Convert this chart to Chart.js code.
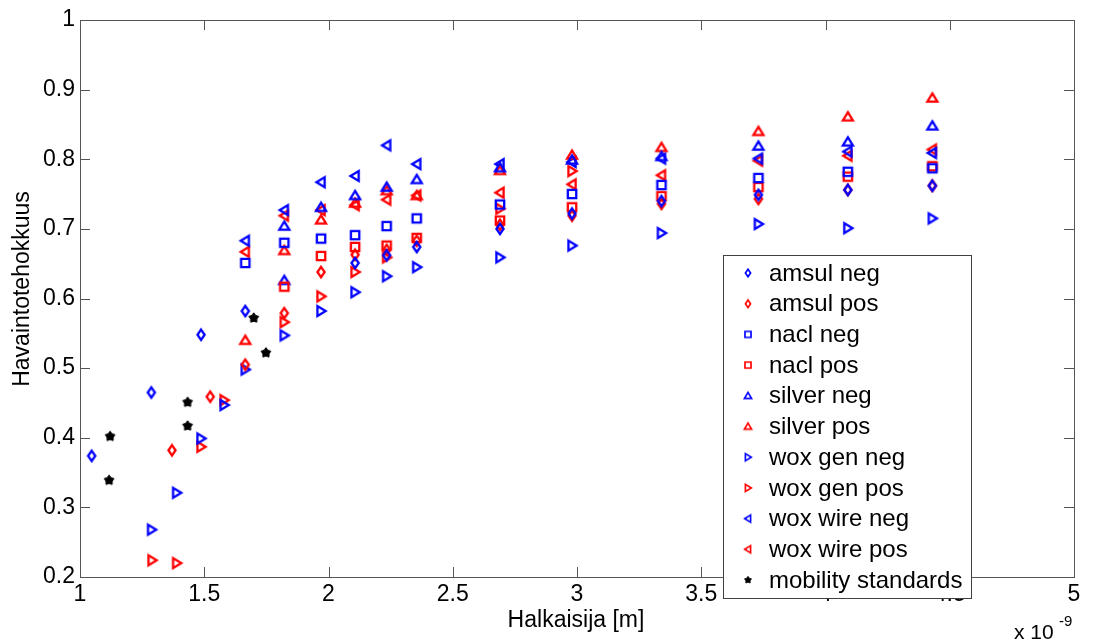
<!DOCTYPE html>
<html>
<head>
<meta charset="utf-8">
<script src="https://cdn.jsdelivr.net/npm/chart.js@4"></script>
<style>
  html, body { margin: 0; padding: 0; background: #fff; }
  #wrap { width: 1095px; height: 642px; }
</style>
</head>
<body>
<div id="wrap"><canvas id="chart" width="1095" height="642"></canvas></div>
<script>
// -------- Data (x in units of 1e-9 m) --------
const amsulNeg = [[1.047,0.374],[1.287,0.465],[1.487,0.548],[1.665,0.582],[2.107,0.651],[2.234,0.662],[2.355,0.674],[2.69,0.700],[2.98,0.722],[3.34,0.740],[3.73,0.749],[4.09,0.756],[4.43,0.762]];
const amsulPos = [[1.370,0.382],[1.524,0.459],[1.665,0.505],[1.822,0.579],[1.970,0.638],[2.107,0.663],[2.234,0.670],[2.355,0.683],[2.69,0.706],[2.98,0.719],[3.34,0.736],[3.73,0.743],[4.09,0.756],[4.43,0.762]];
const naclNeg = [[1.665,0.651],[1.822,0.680],[1.970,0.686],[2.107,0.691],[2.234,0.704],[2.355,0.715],[2.69,0.735],[2.98,0.750],[3.34,0.763],[3.73,0.773],[4.09,0.782],[4.43,0.787]];
const naclPos = [[1.822,0.617],[1.970,0.661],[2.107,0.674],[2.234,0.676],[2.355,0.687],[2.69,0.712],[2.98,0.731],[3.34,0.747],[3.73,0.760],[4.09,0.775],[4.43,0.790]];
const silverNeg = [[1.822,0.704],[1.822,0.626],[1.970,0.731],[2.107,0.748],[2.234,0.760],[2.355,0.771],[2.69,0.788],[2.98,0.799],[3.34,0.804],[3.73,0.819],[4.09,0.825],[4.43,0.848]];
const silverPos = [[1.665,0.540],[1.822,0.669],[1.970,0.713],[2.107,0.737],[2.234,0.755],[2.355,0.748],[2.69,0.784],[2.98,0.806],[3.34,0.817],[3.73,0.840],[4.09,0.861],[4.43,0.888]];
const woxGenNeg = [[1.288,0.268],[1.389,0.321],[1.487,0.399],[1.580,0.447],[1.665,0.498],[1.822,0.547],[1.970,0.582],[2.107,0.609],[2.234,0.632],[2.355,0.645],[2.69,0.659],[2.98,0.676],[3.34,0.694],[3.73,0.707],[4.09,0.701],[4.43,0.715]];
const woxGenPos = [[1.290,0.224],[1.389,0.220],[1.487,0.387],[1.580,0.454],[1.822,0.566],[1.970,0.603],[2.107,0.638],[2.234,0.659],[2.69,0.729],[2.98,0.783]];
const woxWireNeg = [[1.665,0.683],[1.822,0.727],[1.970,0.767],[2.107,0.776],[2.234,0.820],[2.355,0.793],[2.69,0.793],[2.98,0.796],[3.34,0.801],[3.73,0.801],[4.09,0.811],[4.43,0.809]];
const woxWirePos = [[1.665,0.667],[1.822,0.719],[1.970,0.727],[2.107,0.734],[2.234,0.742],[2.355,0.748],[2.69,0.752],[2.98,0.764],[3.34,0.777],[3.73,0.798],[4.09,0.805],[4.43,0.814]];
const mobility = [[1.121,0.402],[1.117,0.339],[1.433,0.451],[1.433,0.417],[1.699,0.572],[1.748,0.522]];

const xTicks = [1, 1.5, 2, 2.5, 3, 3.5, 4, 4.5, 5];
const yTicks = [0.2, 0.3, 0.4, 0.5, 0.6, 0.7, 0.8, 0.9, 1];

const xTitle = 'Halkaisija [m]';
const yTitle = 'Havaintotehokkuus';

const BLUE = '#0000ff';
const RED = '#ff0000';
const AXIS = '#555555';
const FONT = '"Liberation Sans", Arial, sans-serif';


// -------- Markers --------
function makeMarker(shape, color, scale) {
    const s = 20;
    const c = document.createElement('canvas');
    c.width = s; c.height = s;
    const g = c.getContext('2d');
    g.translate(s / 2, s / 2);
    g.scale(scale, scale);
    g.strokeStyle = color;
    g.fillStyle = color;
    g.lineWidth = 2.3;
    g.lineJoin = 'miter';
    g.beginPath();
    if (shape === 'diamond') {
        g.moveTo(0, -5.2); g.lineTo(3.6, 0); g.lineTo(0, 5.2); g.lineTo(-3.6, 0); g.closePath(); g.stroke();
    } else if (shape === 'square') {
        g.rect(-4.2, -4.2, 8.4, 8.4); g.stroke();
    } else if (shape === 'up') {
        g.moveTo(0, -4.6); g.lineTo(5, 3.6); g.lineTo(-5, 3.6); g.closePath(); g.stroke();
    } else if (shape === 'right') {
        g.moveTo(4.6, 0); g.lineTo(-3.6, -5); g.lineTo(-3.6, 5); g.closePath(); g.stroke();
    } else if (shape === 'left') {
        g.moveTo(-4.6, 0); g.lineTo(3.6, -5); g.lineTo(3.6, 5); g.closePath(); g.stroke();
    } else if (shape === 'star') {
        for (let i = 0; i < 10; i++) {
            const r = i % 2 === 0 ? 5.2 : 3.2;
            const a = -Math.PI / 2 + i * Math.PI / 5;
            if (i === 0) g.moveTo(r * Math.cos(a), r * Math.sin(a));
            else g.lineTo(r * Math.cos(a), r * Math.sin(a));
        }
        g.closePath(); g.fill();
        g.lineWidth = 1; g.stroke();
    }
    return c;
}

const seriesDefs = [
    ['amsul neg', amsulNeg, 'diamond', BLUE],
    ['amsul pos', amsulPos, 'diamond', RED],
    ['nacl neg', naclNeg, 'square', BLUE],
    ['nacl pos', naclPos, 'square', RED],
    ['silver neg', silverNeg, 'up', BLUE],
    ['silver pos', silverPos, 'up', RED],
    ['wox gen neg', woxGenNeg, 'right', BLUE],
    ['wox gen pos', woxGenPos, 'right', RED],
    ['wox wire neg', woxWireNeg, 'left', BLUE],
    ['wox wire pos', woxWirePos, 'left', RED],
    ['mobility standards', mobility, 'star', '#000000']
];

const legendMarkers = seriesDefs.map(d => makeMarker(d[2], d[3], 0.72));

const datasets = seriesDefs.map(d => ({
    label: d[0],
    data: d[1].map(p => ({ x: p[0], y: p[1] })),
    pointStyle: makeMarker(d[2], d[3], 1),
    pointRadius: 5,
    borderColor: d[3],
    backgroundColor: d[3],
    showLine: false
}));

const fmt = v => String(Math.round(v * 10) / 10);


// -------- Axes box, ticks, titles, legend --------
const matlabAxes = {
    id: 'matlabAxes',
    afterDatasetsDraw(chart) {
        const { ctx, chartArea: a, scales } = chart;
        ctx.save();
        ctx.strokeStyle = AXIS;
        ctx.lineWidth = 1;
        ctx.strokeRect(a.left + 0.5, a.top + 0.5, a.right - a.left, a.bottom - a.top);
        ctx.beginPath();
        xTicks.forEach(v => {
            const px = Math.round(scales.x.getPixelForValue(v)) + 0.5;
            ctx.moveTo(px, a.bottom); ctx.lineTo(px, a.bottom - 10);
            ctx.moveTo(px, a.top); ctx.lineTo(px, a.top + 10);
        });
        yTicks.forEach(v => {
            const py = Math.round(scales.y.getPixelForValue(v)) + 0.5;
            ctx.moveTo(a.left, py); ctx.lineTo(a.left + 10, py);
            ctx.moveTo(a.right, py); ctx.lineTo(a.right - 10, py);
        });
        ctx.stroke();
        ctx.restore();
    },
    afterDraw(chart) {
        const { ctx } = chart;
        ctx.save();
        ctx.fillStyle = '#000';

        // axis titles
        ctx.font = '23px ' + FONT;
        ctx.textAlign = 'center';
        ctx.textBaseline = 'middle';
        ctx.fillText(xTitle, 576, 621);
        ctx.save();
        ctx.translate(23, 289);
        ctx.rotate(-Math.PI / 2);
        ctx.fillText(yTitle, 0, 0);
        ctx.restore();

        // exponent
        ctx.textAlign = 'left';
        ctx.textBaseline = 'alphabetic';
        ctx.font = '21px ' + FONT;
        ctx.fillText('x 10', 1014, 639);
        ctx.font = '15px ' + FONT;
        ctx.fillText('-9', 1059, 626);

        // legend
        const lx = 723, ly = 255, lw = 248, lh = 343;
        ctx.fillStyle = '#fff';
        ctx.fillRect(lx, ly, lw, lh);
        ctx.strokeStyle = '#404040';
        ctx.lineWidth = 1;
        ctx.strokeRect(lx + 0.5, ly + 0.5, lw, lh);
        ctx.font = '24px ' + FONT;
        ctx.textBaseline = 'middle';
        ctx.fillStyle = '#000';
        chart.data.datasets.forEach((ds, i) => {
            const cy = 273 + i * 30.7;
            const m = legendMarkers[i];
            ctx.drawImage(m, 748 - m.width / 2, cy - m.height / 2);
            ctx.fillText(ds.label, 769, cy + 1);
        });
        ctx.restore();
    }
};


// -------- Chart --------
new Chart(document.getElementById('chart').getContext('2d'), {
    type: 'scatter',
    data: { datasets },
    options: {
        responsive: false,
        animation: false,
        events: [],
        layout: { padding: { left: 0, right: 21, top: 20, bottom: 0 } },
        plugins: {
            legend: { display: false },
            tooltip: { enabled: false }
        },
        scales: {
            x: {
                type: 'linear',
                min: 1, max: 5,
                afterFit: s => { s.height = 65; },
                afterBuildTicks: s => { s.ticks = xTicks.map(v => ({ value: v })); },
                grid: { display: false, drawTicks: false },
                border: { display: false },
                ticks: {
                    padding: 4,
                    color: '#000',
                    font: { family: FONT, size: 23 },
                    maxRotation: 0,
                    autoSkip: false,
                    callback: fmt
                }
            },
            y: {
                type: 'linear',
                min: 0.2, max: 1,
                afterFit: s => { s.width = 80; },
                afterBuildTicks: s => { s.ticks = yTicks.map(v => ({ value: v })); },
                grid: { display: false, drawTicks: false },
                border: { display: false },
                ticks: {
                    padding: 5,
                    color: '#000',
                    font: { family: FONT, size: 23 },
                    callback: fmt
                }
            }
        }
    },
    plugins: [matlabAxes]
});
</script>
</body>
</html>
